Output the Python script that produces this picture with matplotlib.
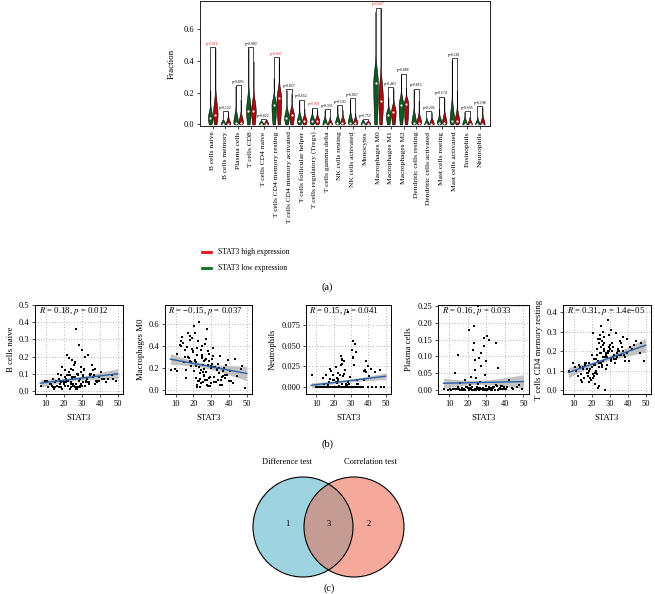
import numpy as np
import matplotlib
matplotlib.use('Agg')
import matplotlib.pyplot as plt
from matplotlib.patches import Circle
from matplotlib.lines import Line2D

plt.rcParams['font.family'] = ['Liberation Serif', 'DejaVu Serif']
plt.rcParams['mathtext.fontset'] = 'stix'

W, H = 655, 594

# ---- panel (a): violin summary values ----
cells = ["B cells naive", "B cells memory", "Plasma cells", "T cells CD8",
         "T cells CD4 naive", "T cells CD4 memory resting",
         "T cells CD4 memory activated", "T cells follicular helper",
         "T cells regulatory (Tregs)", "T cells gamma delta", "NK cells resting",
         "NK cells activated", "Monocytes", "Macrophages M0", "Macrophages M1",
         "Macrophages M2", "Dendritic cells resting", "Dendritic cells activated",
         "Mast cells resting", "Mast cells activated", "Eosinophils", "Neutrophils"]
low_top = [0.215, 0.03, 0.24, 0.48, 0.02, 0.29, 0.215, 0.15, 0.10, 0.09, 0.115,
           0.16, 0.03, 0.71, 0.17, 0.315, 0.22, 0.04, 0.10, 0.41, 0.08, 0.05]
low_med = [0.04, 0.002, 0.01, 0.085, 0.0, 0.12, 0.04, 0.02, 0.02, 0.0, 0.01,
           0.01, 0.0, 0.26, 0.06, 0.12, 0.01, 0.0, 0.01, 0.02, 0.0, 0.0]
high_top = [0.48, 0.077, 0.16, 0.40, 0.03, 0.42, 0.195, 0.10, 0.09, 0.05, 0.09,
            0.07, 0.02, 0.73, 0.23, 0.23, 0.15, 0.077, 0.17, 0.215, 0.05, 0.11]
high_med = [0.06, 0.003, 0.01, 0.085, 0.0, 0.165, 0.06, 0.02, 0.02, 0.0, 0.01,
            0.01, 0.0, 0.15, 0.08, 0.13, 0.01, 0.0, 0.01, 0.02, 0.0, 0.0]
p_text = ["0.016", "0.132", "0.893", "0.900", "0.822", "0.003", "0.857", "0.652",
          "0.001", "0.333", "0.193", "0.067", "0.753", "0.007", "0.463", "0.888",
          "0.815", "0.205", "0.174", "0.181", "0.695", "0.198"]
p_sig = [True, False, False, False, False, True, False, False, True, False, False,
         False, False, True, False, False, False, False, False, False, False, False]

# ---- panel (b): scatter values (same samples on every panel) ----
stat3 = [21.4, 24.8, 18.2, 29.5, 33.1, 26.7, 22.9, 16.4, 27.8, 31.2,
         19.6, 23.5, 35.4, 25.9, 20.7, 28.6, 12.3, 30.4, 24.1, 17.5,
         26.2, 22.0, 38.7, 29.0, 21.8, 25.3, 32.6, 19.0, 27.1, 23.8,
         44.5, 20.2, 28.1, 24.5, 34.2, 18.7, 26.9, 30.9, 22.5, 15.3,
         25.6, 29.8, 21.1, 36.8, 23.1, 27.4, 19.9, 31.7, 24.3, 9.6,
         28.9, 22.3, 26.4, 33.8, 20.5, 25.0, 30.1, 17.9, 23.3, 41.2,
         27.6, 21.6, 24.9, 29.3, 19.3, 32.2, 26.0, 22.7, 7.4, 28.3,
         25.4, 30.6, 23.9, 37.9, 20.9, 27.0, 18.5, 24.7, 31.5, 49.2,
         22.2, 26.5, 29.7, 14.1, 25.8, 34.9, 21.3, 28.0, 23.6, 46.8,
         13.2, 15.8, 36.1, 39.5, 11.0, 33.6, 16.9, 37.2, 42.3, 14.6,
         34.6, 12.9, 38.4, 17.1, 35.9, 40.6, 15.0, 32.0, 36.4, 13.8,
         43.7, 16.1, 33.3, 39.8, 18.0, 35.0, 10.5, 37.6, 31.0, 47.5]
b_naive = [0.05, 0.08, 0.02, 0.11, 0.07, 0.04, 0.19, 0.03, 0.09, 0.13,
           0.06, 0.01, 0.10, 0.15, 0.03, 0.06, 0.04, 0.24, 0.02, 0.07,
           0.08, 0.21, 0.05, 0.03, 0.09, 0.12, 0.06, 0.01, 0.36, 0.04,
           0.07, 0.05, 0.10, 0.18, 0.04, 0.09, 0.02, 0.08, 0.06, 0.02,
           0.03, 0.14, 0.07, 0.09, 0.11, 0.01, 0.04, 0.20, 0.05, 0.06,
           0.02, 0.09, 0.17, 0.05, 0.12, 0.08, 0.03, 0.06, 0.01, 0.07,
           0.10, 0.06, 0.03, 0.07, 0.14, 0.05, 0.02, 0.11, 0.03, 0.27,
           0.04, 0.09, 0.13, 0.06, 0.08, 0.01, 0.05, 0.07, 0.12, 0.06,
           0.03, 0.16, 0.04, 0.02, 0.08, 0.10, 0.05, 0.02, 0.09, 0.09,
           0.03, 0.06, 0.12, 0.08, 0.02, 0.05, 0.10, 0.04, 0.07, 0.01,
           0.09, 0.04, 0.06, 0.02, 0.15, 0.11, 0.05, 0.03, 0.08, 0.07,
           0.05, 0.03, 0.21, 0.06, 0.04, 0.10, 0.06, 0.13, 0.05, 0.07]
mac_m0 = [0.22, 0.31, 0.45, 0.12, 0.18, 0.27, 0.08, 0.39, 0.05, 0.21,
          0.34, 0.15, 0.09, 0.26, 0.52, 0.11, 0.41, 0.24, 0.06, 0.29,
          0.19, 0.38, 0.14, 0.33, 0.03, 0.23, 0.07, 0.47, 0.28, 0.10,
          0.13, 0.58, 0.04, 0.36, 0.20, 0.25, 0.16, 0.31, 0.44, 0.30,
          0.07, 0.22, 0.27, 0.17, 0.62, 0.09, 0.35, 0.12, 0.18, 0.19,
          0.26, 0.05, 0.42, 0.24, 0.17, 0.32, 0.06, 0.49, 0.21, 0.08,
          0.55, 0.11, 0.29, 0.04, 0.37, 0.21, 0.14, 0.08, 0.18, 0.23,
          0.16, 0.28, 0.03, 0.11, 0.26, 0.46, 0.22, 0.40, 0.07, 0.02,
          0.32, 0.09, 0.20, 0.43, 0.13, 0.05, 0.25, 0.35, 0.15, 0.19,
          0.40, 0.18, 0.12, 0.27, 0.33, 0.09, 0.52, 0.20, 0.06, 0.25,
          0.15, 0.44, 0.23, 0.30, 0.05, 0.17, 0.36, 0.21, 0.13, 0.48,
          0.28, 0.11, 0.19, 0.08, 0.26, 0.31, 0.17, 0.14, 0.38, 0.22]
neutro = [0.000, 0.004, 0.000, 0.012, 0.000, 0.021, 0.000, 0.002, 0.000, 0.035,
          0.008, 0.000, 0.000, 0.016, 0.000, 0.003, 0.000, 0.000, 0.027, 0.000,
          0.000, 0.011, 0.018, 0.000, 0.005, 0.000, 0.042, 0.000, 0.001, 0.014,
          0.000, 0.000, 0.006, 0.033, 0.000, 0.019, 0.000, 0.055, 0.000, 0.000,
          0.013, 0.000, 0.024, 0.000, 0.001, 0.000, 0.009, 0.000, 0.038, 0.000,
          0.000, 0.017, 0.000, 0.004, 0.000, 0.028, 0.000, 0.010, 0.000, 0.022,
          0.002, 0.000, 0.034, 0.000, 0.015, 0.000, 0.000, 0.007, 0.014, 0.000,
          0.000, 0.045, 0.000, 0.020, 0.000, 0.003, 0.000, 0.000, 0.026, 0.000,
          0.010, 0.000, 0.000, 0.000, 0.031, 0.000, 0.006, 0.090, 0.000, 0.020,
          0.000, 0.014, 0.000, 0.025, 0.000, 0.008, 0.000, 0.019, 0.000, 0.003,
          0.000, 0.000, 0.031, 0.006, 0.000, 0.013, 0.000, 0.052, 0.000, 0.011,
          0.018, 0.000, 0.004, 0.000, 0.022, 0.000, 0.000, 0.009, 0.036, 0.000]
plasma = [0.003, 0.010, 0.001, 0.045, 0.006, 0.002, 0.120, 0.000, 0.004, 0.150,
          0.008, 0.000, 0.015, 0.002, 0.005, 0.130, 0.002, 0.001, 0.060, 0.003,
          0.000, 0.007, 0.012, 0.155, 0.003, 0.020, 0.001, 0.010, 0.004, 0.090,
          0.002, 0.006, 0.000, 0.035, 0.009, 0.001, 0.110, 0.003, 0.008, 0.004,
          0.250, 0.002, 0.014, 0.004, 0.000, 0.070, 0.005, 0.009, 0.001, 0.000,
          0.004, 0.001, 0.025, 0.006, 0.180, 0.003, 0.011, 0.000, 0.140, 0.008,
          0.002, 0.040, 0.006, 0.001, 0.010, 0.003, 0.095, 0.000, 0.002, 0.005,
          0.007, 0.160, 0.002, 0.012, 0.000, 0.004, 0.030, 0.001, 0.006, 0.003,
          0.000, 0.005, 0.085, 0.003, 0.018, 0.001, 0.002, 0.007, 0.190, 0.009,
          0.004, 0.001, 0.065, 0.003, 0.000, 0.010, 0.006, 0.002, 0.030, 0.008,
          0.001, 0.050, 0.004, 0.000, 0.012, 0.002, 0.105, 0.005, 0.000, 0.003,
          0.007, 0.020, 0.001, 0.009, 0.003, 0.140, 0.002, 0.006, 0.004, 0.015]
cd4_rest = [0.16, 0.19, 0.10, 0.22, 0.14, 0.27, 0.08, 0.13, 0.18, 0.24,
            0.05, 0.15, 0.20, 0.12, 0.29, 0.17, 0.07, 0.21, 0.02, 0.11,
            0.23, 0.09, 0.15, 0.19, 0.13, 0.33, 0.16, 0.06, 0.20, 0.14,
            0.25, 0.18, 0.11, 0.26, 0.17, 0.04, 0.21, 0.15, 0.10, 0.12,
            0.13, 0.28, 0.07, 0.22, 0.18, 0.00, 0.12, 0.17, 0.24, 0.14,
            0.20, 0.16, 0.30, 0.19, 0.08, 0.14, 0.23, 0.09, 0.26, 0.22,
            0.17, 0.03, 0.19, 0.36, 0.11, 0.18, 0.15, 0.21, 0.10, 0.13,
            0.22, 0.16, 0.12, 0.18, 0.06, 0.24, 0.14, 0.28, 0.20, 0.15,
            0.09, 0.17, 0.20, 0.05, 0.25, 0.21, 0.13, 0.19, 0.01, 0.19,
            0.12, 0.06, 0.24, 0.19, 0.10, 0.16, 0.14, 0.27, 0.21, 0.04,
            0.20, 0.13, 0.17, 0.09, 0.25, 0.15, 0.11, 0.22, 0.18, 0.08,
            0.23, 0.14, 0.29, 0.26, 0.07, 0.18, 0.12, 0.20, 0.31, 0.24]

sc_names = ["B cells naive", "Macrophages M0", "Neutrophils", "Plasma cells",
            "T cells CD4 memory resting"]
sc_values = [b_naive, mac_m0, neutro, plasma, cd4_rest]
sc_stats = ["$R$ = 0.18, $p$ = 0.012", "$R$ = \u22120.15, $p$ = 0.037",
            "$R$ = 0.15, $p$ = 0.041", "$R$ = 0.16, $p$ = 0.033",
            "$R$ = 0.31, $p$ = 1.4e\u221205"]
fit_start = [0.045, 0.28, 0.002, 0.020, 0.09]   # fitted value at STAT3 = 7
fit_end = [0.100, 0.15, 0.013, 0.025, 0.23]      # fitted value at STAT3 = 50
band_edge = [0.030, 0.065, 0.004, 0.020, 0.035]
band_mid = [0.010, 0.020, 0.0015, 0.006, 0.010]
sc_yticks = [[0.0, 0.1, 0.2, 0.3, 0.4, 0.5], [0.0, 0.2, 0.4, 0.6],
             [0.0, 0.025, 0.05, 0.075], [0.0, 0.05, 0.10, 0.15, 0.20, 0.25],
             [0.0, 0.1, 0.2, 0.3, 0.4]]
sc_fmt = ["{:.1f}", "{:.1f}", "{:.3f}", "{:.2f}", "{:.1f}"]
sc_ylim = [(-0.018, 0.5), (-0.036, 0.77), (-0.0085, 0.099), (-0.012, 0.253), (-0.02, 0.436)]

# ---- panel (c): venn counts ----
venn_sets = ["Difference test", "Correlation test"]
venn_counts = [1, 3, 2]


fig = plt.figure(figsize=(6.55, 5.94), dpi=100)

# overlay in pixel coordinates for free text, legend and venn
ov = fig.add_axes([0, 0, 1, 1])
ov.set_xlim(0, W)
ov.set_ylim(H, 0)
ov.axis('off')


def px_axes(l, r, t, b):
    return fig.add_axes([l / W, 1 - b / H, (r - l) / W, (b - t) / H])


# ===== (a) violins =====
ax = px_axes(200, 490, 1, 126)
green, red = '#0e5a1f', '#a80d0d'


def draw_violin(x0, top, med, color):
    yy = np.linspace(0, top, 120)
    s_lo = max(med * 0.9, 0.008)
    s_hi = 0.15 * (top - med) + 0.012
    s = np.where(yy < med, s_lo, s_hi)
    w = np.exp(-0.5 * ((yy - med) / s) ** 2)
    w = np.maximum(w, 0.07)
    w[-1] = 0
    w = w * 0.18
    ax.fill_betweenx(yy, x0 - w, x0 + w, facecolor=color, edgecolor='black', lw=0.4)
    ax.plot([x0], [med], 'o', ms=1.6, color='white', mec='none', zorder=5)


for i in range(len(cells)):
    draw_violin(i - 0.2, low_top[i], low_med[i], green)
    draw_violin(i + 0.2, high_top[i], high_med[i], red)
    bh = max(low_top[i], high_top[i]) + 0.005
    ax.plot([i - 0.2, i - 0.2, i + 0.2, i + 0.2],
            [low_top[i] + 0.003, bh, bh, high_top[i] + 0.003], color='black', lw=0.5)
    ax.text(i, bh + 0.008, "p=" + p_text[i], ha='center', va='bottom', fontsize=2.8,
            color='#d62728' if p_sig[i] else 'black')

ax.set_xlim(-1.0, 21.8)
ax.set_ylim(-0.01, 0.776)
ax.set_xticks(range(len(cells)))
ax.set_xticklabels(cells, rotation=90, fontsize=5.4)
ax.set_yticks([0.0, 0.2, 0.4, 0.6])
ax.set_yticklabels(["0.0", "0.2", "0.4", "0.6"], fontsize=6)
ax.tick_params(length=2, width=0.5, pad=2)
ax.set_ylabel("Fraction", fontsize=6.5, labelpad=6)
for sp in ax.spines.values():
    sp.set_linewidth(0.6)

# legend
ov.add_line(Line2D([202, 211], [252, 252], color='#e8101a', lw=2))
ov.add_line(Line2D([202, 211], [268, 268], color='#0e6e22', lw=2))
ov.text(218, 252, "STAT3 high expression", fontsize=5.5, va='center')
ov.text(218, 268, "STAT3 low expression", fontsize=5.5, va='center')
ov.text(327, 287, "(a)", fontsize=7.5, ha='center', va='center')

# ===== (b) scatter panels =====
panel_px = [(35, 123), (165, 252), (306, 391), (438, 529), (563, 651)]
x = np.array(stat3)
for k in range(5):
    l, r = panel_px[k]
    a = px_axes(l, r, 305, 394)
    a.set_xlim(4, 53)
    a.set_ylim(*sc_ylim[k])
    a.set_xticks([10, 20, 30, 40, 50])
    a.set_yticks(sc_yticks[k])
    a.set_yticklabels([sc_fmt[k].format(v) for v in sc_yticks[k]])
    a.tick_params(labelsize=6, length=2, width=0.5, pad=2)
    a.grid(True, ls=(0, (1, 3)), color='#777777', lw=0.5)
    a.set_axisbelow(True)
    for sp in a.spines.values():
        sp.set_linewidth(0.7)
    # band and fitted line
    xs = np.linspace(7, 50, 60)
    ys = fit_start[k] + (fit_end[k] - fit_start[k]) * (xs - 7) / 43
    t = (xs - 25) / 25
    hw = np.sqrt(band_mid[k] ** 2 + (band_edge[k] ** 2 - band_mid[k] ** 2) * t ** 2)
    a.fill_between(xs, ys - hw, ys + hw, color='#b4b4b4', alpha=0.8, lw=0, zorder=2)
    a.scatter(x, sc_values[k], s=1.8, marker='s', color='black', lw=0, zorder=3)
    a.plot(xs, ys, color='#2c5fa8', lw=1.0, zorder=4)
    a.text(0.04, 0.93, sc_stats[k], transform=a.transAxes, fontsize=6.3,
           va='center', ha='left', zorder=5)
    a.set_xlabel("STAT3", fontsize=6.3, labelpad=5)
    a.set_ylabel(sc_names[k], fontsize=6.3, labelpad=3)

ov.text(327, 444, "(b)", fontsize=7.5, ha='center', va='center')

# ===== (c) venn =====
c1 = Circle((303, 527), 50, facecolor='#9ed4df', edgecolor='none', zorder=1)
c2 = Circle((354, 527), 50, facecolor='#f4a99b', edgecolor='none', zorder=1)
ov.add_patch(c1)
ov.add_patch(c2)
mid = Circle((303, 527), 50, facecolor='#c49c93', edgecolor='none', zorder=2)
ov.add_patch(mid)
mid.set_clip_path(c2)
for c in [(303, 527), (354, 527)]:
    ov.add_patch(Circle(c, 50, facecolor='none', edgecolor='black', lw=0.8, zorder=3))
ov.text(287, 462, venn_sets[0], fontsize=6, ha='center', va='center')
ov.text(370, 462, venn_sets[1], fontsize=6, ha='center', va='center')
for xx, n in zip([287, 329, 369], venn_counts):
    ov.text(xx, 524, str(n), fontsize=6, ha='center', va='center', zorder=4)
ov.text(329, 588, "(c)", fontsize=7.5, ha='center', va='center')

fig.savefig("out.png", dpi=100)
